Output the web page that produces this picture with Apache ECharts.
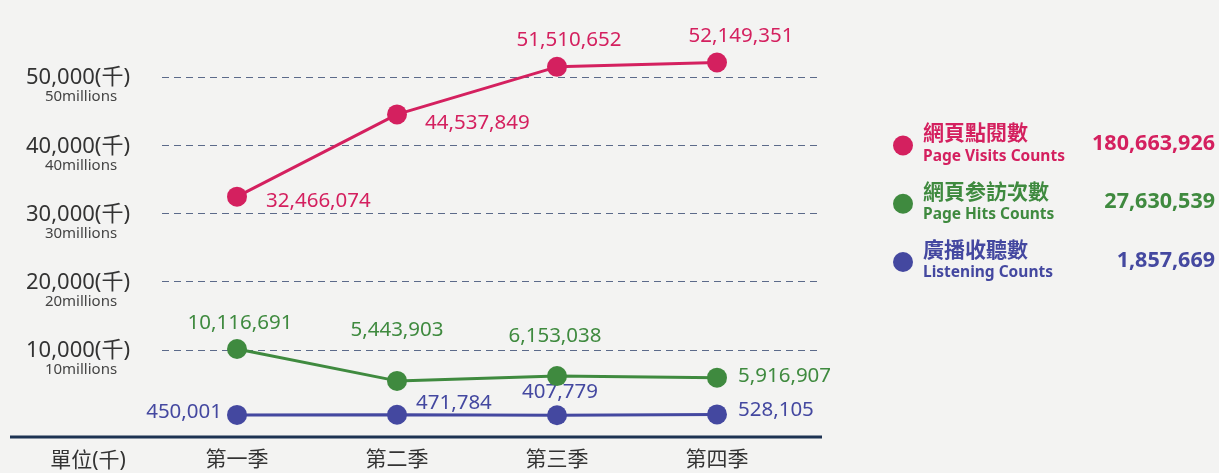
<!DOCTYPE html>
<html>
<head>
<meta charset="utf-8">
<script src="https://cdn.jsdelivr.net/npm/echarts@6/dist/echarts.min.js"></script>
<style>
  html, body { margin: 0; padding: 0; background: #f3f3f2; }
  #main { width: 1219px; height: 473px; }
</style>
</head>
<body>
<div id="main"></div>
<script>
// data
var quarters = ["第一季", "第二季", "第三季", "第四季"];
var seriesNames = ["網頁點閱數", "網頁参訪次數", "廣播收聽數"];
var englishNames = ["Page Visits Counts", "Page Hits Counts", "Listening Counts"];
var pageVisits = [32466074, 44537849, 51510652, 52149351];
var pageHits = [10116691, 5443903, 6153038, 5916907];
var listening = [450001, 471784, 407779, 528105];
var unitLabel = "單位(千)";

var colors = ["#d4205f", "#3f8a3f", "#4448a0"];
var font = "'Noto Sans', 'Noto Sans CJK TC', sans-serif";

// label placement per point (style only)
var labelLayouts = [
  [
    { position: "right", distance: 19, offset: [0, 4] },
    { position: "right", distance: 18, offset: [0, 9] },
    { position: "top", distance: 6, offset: [12, 0] },
    { position: "top", distance: 6, offset: [24, 0] },
  ],
  [
    { position: "top", distance: 6, offset: [3, 0] },
    { position: "top", distance: 6, offset: [0, -24] },
    { position: "top", distance: 6, offset: [-2, -14] },
    { position: "right", distance: 11, offset: [0, -2] },
  ],
  [
    { position: "left", distance: 5, offset: [0, -3] },
    { position: "right", distance: 9, offset: [0, -12] },
    { position: "top", distance: 6, offset: [3, 3] },
    { position: "right", distance: 11, offset: [0, -4] },
  ],
];

var allValues = [pageVisits, pageHits, listening];

function fmt(n) {
  return n.toLocaleString("en-US");
}

function sum(arr) {
  return arr.reduce(function (a, b) { return a + b; }, 0);
}

var myChart = echarts.init(document.getElementById("main"));

var series = seriesNames.map(function (name, s) {
  return {
    name: name,
    type: "line",
    symbol: "circle",
    symbolSize: 20,
    color: colors[s],
    lineStyle: { width: 3, color: colors[s] },
    itemStyle: { color: colors[s] },
    label: {
      show: true,
      color: colors[s],
      fontFamily: font,
      fontSize: 20.5,
      formatter: function (p) { return fmt(p.value[1]); },
    },
    z: 10 - s,
    data: allValues[s].map(function (v, i) {
      return { value: [i + 1, v], label: labelLayouts[s][i] };
    }),
  };
});

var legendRich = {};
var totalRich = {};
seriesNames.forEach(function (n, i) {
  legendRich["z" + i] = { color: colors[i], fontFamily: font, fontSize: 21, fontWeight: "bold", lineHeight: 22, padding: [0, 0, 0, 5] };
  legendRich["e" + i] = { color: colors[i], fontFamily: font, fontSize: 15.5, fontWeight: "bold", lineHeight: 22, padding: [0, 0, 0, 5] };
  totalRich["t" + i] = { color: colors[i], fontFamily: font, fontSize: 21.5, fontWeight: "bold" };
});

var option = {
  backgroundColor: "#f3f3f2",
  animation: false,
  grid: { left: 162, right: 397, top: 9, bottom: 55 },
  xAxis: {
    type: "value",
    min: 0.53125,
    max: 4.65625,
    axisLine: { show: false },
    axisTick: { show: false },
    splitLine: { show: false },
    axisLabel: {
      customValues: [1, 2, 3, 4],
      margin: 32,
      color: "#333",
      fontFamily: font,
      fontSize: 21,
      formatter: function (v) { return quarters[Math.round(v) - 1] || ""; },
    },
  },
  yAxis: {
    type: "value",
    min: 0,
    max: 60000000,
    interval: 10000000,
    axisLine: { show: false },
    axisTick: { show: false },
    splitLine: {
      showMinLine: false,
      showMaxLine: false,
      lineStyle: { color: "#5b6a8a", type: [7, 5], width: 1 },
    },
    axisLabel: {
      showMinLabel: false,
      showMaxLabel: false,
      align: "center",
      margin: 84,
      padding: [18, 0, 0, 0],
      formatter: function (v) {
        return "{a|" + fmt(v / 1000) + "(千)}\n{b|" + v / 1000000 + "millions}";
      },
      rich: {
        a: { color: "#333", fontFamily: font, fontSize: 22, lineHeight: 22, align: "center" },
        b: { color: "#444", fontFamily: font, fontSize: 15, lineHeight: 16, align: "center", padding: [0, 0, 0, 6] },
      },
    },
  },
  legend: [
    {
      orient: "vertical",
      left: 893,
      top: 124,
      padding: 0,
      icon: "circle",
      itemWidth: 20,
      itemHeight: 20,
      itemGap: 18,
      selectedMode: false,
      data: seriesNames,
      formatter: function (name) {
        var i = seriesNames.indexOf(name);
        return "{z" + i + "|" + name + "}\n{e" + i + "|" + englishNames[i] + "}";
      },
      textStyle: { rich: legendRich },
    },
    {
      orient: "vertical",
      right: -1,
      top: 133,
      padding: 0,
      icon: "none",
      itemWidth: 0,
      itemHeight: 20,
      itemGap: 37,
      align: "right",
      selectedMode: false,
      data: seriesNames,
      formatter: function (name) {
        var i = seriesNames.indexOf(name);
        return "{t" + i + "|" + fmt(sum(allValues[i])) + "}";
      },
      textStyle: { rich: totalRich },
    },
  ],
  graphic: [
    {
      type: "line",
      shape: { x1: 10, y1: 437, x2: 822, y2: 437 },
      style: { stroke: "#1d3252", lineWidth: 3 },
      z: 1,
    },
    {
      type: "text",
      x: 88,
      y: 461,
      style: {
        text: unitLabel,
        fill: "#333",
        font: "21px " + font,
        align: "center",
        verticalAlign: "middle",
      },
    },
  ],
  series: series,
};

option && myChart.setOption(option);
</script>
</body>
</html>
